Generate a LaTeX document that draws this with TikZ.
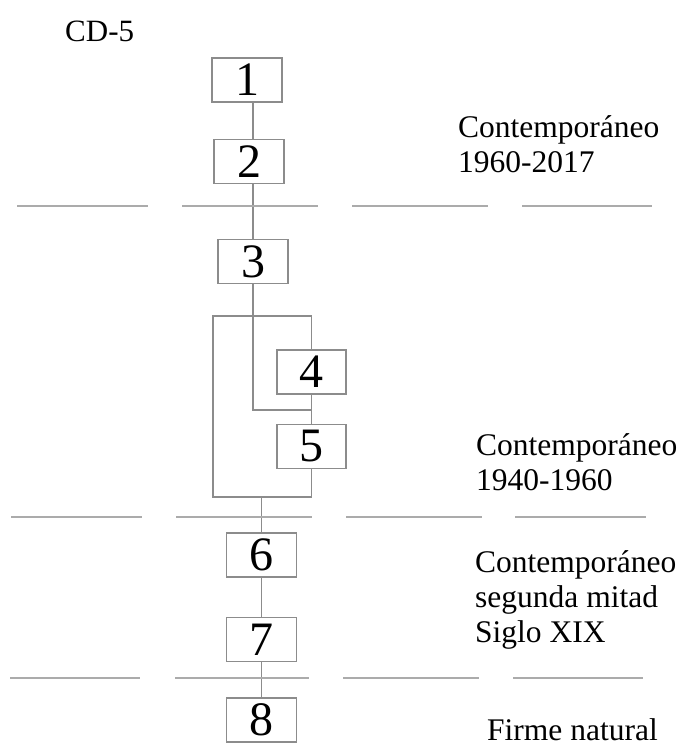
\documentclass[tikz,border=0pt]{standalone}
\usepackage{fontspec}
\setmainfont{Liberation Serif}
\usepackage{xcolor}
\usepackage{tikz}
\usetikzlibrary{positioning}
\definecolor{linegray}{HTML}{8C8C8C}
\definecolor{sepgray}{HTML}{ABABAB}

\begin{document}
\begin{tikzpicture}[x=1pt, y=-1pt,
  box/.style={draw=linegray, line width=1.5pt, minimum width=70pt, minimum height=44pt, inner sep=0pt, font=\fontsize{48}{48}\selectfont},
  link/.style={draw=linegray, line width=1.4pt},
  sep/.style={draw=sepgray, line width=2.6pt},
  lbl/.style={anchor=base west, align=left, inner sep=0pt, font=\fontsize{31.5}{35}\selectfont}
]
  \useasboundingbox (0,0) rectangle (684,746);

  % title
  \node[lbl, font=\fontsize{31}{35}\selectfont] (title) at (65,42) {CD-5};

  % units
  \node[box] (u1) at (247,80) {1};
  \node[box] (u2) at (249,161.5) {2};
  \node[box] (u3) at (253,261.5) {3};
  \node[box, minimum width=69pt] (u4) at (311.5,372) {4};
  \node[box, minimum width=69pt] (u5) at (311.5,446.5) {5};
  \node[box] (u6) at (261.5,555) {6};
  \node[box] (u7) at (261.5,639.5) {7};
  \node[box] (u8) at (261.5,720) {8};

  % frame around 4 and 5
  \coordinate (tl) at (213,316);
  \coordinate (bl) at (213,497);
  \coordinate (tr) at (u4.north |- tl);
  \coordinate (br) at (u4.north |- bl);
  \coordinate (join) at (u4.north |- 0,410);

  \draw[link] (u1.south -| u3.north) -- (u2.north -| u3.north);
  \draw[link] (u2.south -| u3.north) -- (u3.north);
  \draw[link] (u3.south) -- (u3.south |- join) -- (join);
  \draw[link] (u4.north) -- (tr) -- (tl) -- (bl) -- (br) -- (u5.south);
  \draw[link] (u4.south) -- (u5.north);
  \draw[link] (u6.north |- br) -- (u6.north);
  \draw[link] (u6.south) -- (u7.north);
  \draw[link] (u7.south) -- (u8.north);

  % period limits
  \foreach \y/\a/\b/\c/\d/\e/\f/\g/\h in {206/17/148/182/318/352/488/522/652,
                                          517/11/142/176/312/346/482/515/646,
                                          678/10/140/175/309/343/479/513/643}{
    \draw[sep] (\a,\y) -- (\b,\y);
    \draw[sep] (\c,\y) -- (\d,\y);
    \draw[sep] (\e,\y) -- (\f,\y);
    \draw[sep] (\g,\y) -- (\h,\y);
  }

  % periods (base = last line)
  \node[lbl] (p1) at (458,172) {Contemporáneo\\1960-2017};
  \node[lbl] (p2) at (476,490) {Contemporáneo\\1940-1960};
  \node[lbl] (p3) at (475,642) {Contemporáneo\\segunda mitad\\Siglo XIX};
  \node[lbl] (p4) at (487,740) {Firme natural};
\end{tikzpicture}
\end{document}
